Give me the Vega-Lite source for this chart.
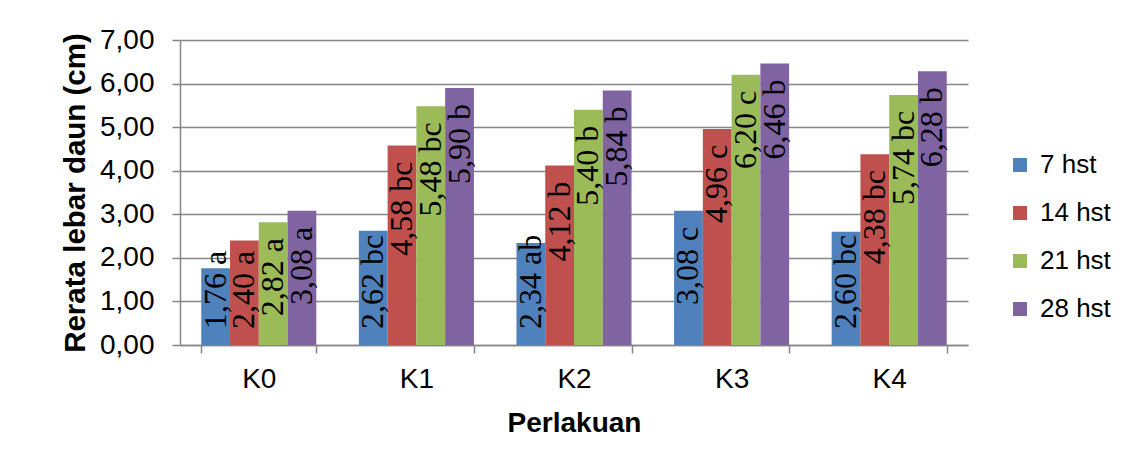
{
  "$schema": "https://vega.github.io/schema/vega-lite/v6.json",
  "width": 788,
  "height": 305,
  "autosize": {"type": "none"},
  "padding": {"left": 180, "top": 40, "right": 159, "bottom": 108},
  "background": "white",
  "config": {
    "view": {"stroke": null},
    "font": "Liberation Sans"
  },
  "data": {
    "values": [
      {"perlakuan": "K0", "waktu": "7 hst", "nilai": 1.76, "label": "1,76 a"},
      {"perlakuan": "K0", "waktu": "14 hst", "nilai": 2.40, "label": "2,40 a"},
      {"perlakuan": "K0", "waktu": "21 hst", "nilai": 2.82, "label": "2,82 a"},
      {"perlakuan": "K0", "waktu": "28 hst", "nilai": 3.08, "label": "3,08 a"},
      {"perlakuan": "K1", "waktu": "7 hst", "nilai": 2.62, "label": "2,62 bc"},
      {"perlakuan": "K1", "waktu": "14 hst", "nilai": 4.58, "label": "4,58 bc"},
      {"perlakuan": "K1", "waktu": "21 hst", "nilai": 5.48, "label": "5,48 bc"},
      {"perlakuan": "K1", "waktu": "28 hst", "nilai": 5.90, "label": "5,90 b"},
      {"perlakuan": "K2", "waktu": "7 hst", "nilai": 2.34, "label": "2,34 ab"},
      {"perlakuan": "K2", "waktu": "14 hst", "nilai": 4.12, "label": "4,12 b"},
      {"perlakuan": "K2", "waktu": "21 hst", "nilai": 5.40, "label": "5,40 b"},
      {"perlakuan": "K2", "waktu": "28 hst", "nilai": 5.84, "label": "5,84 b"},
      {"perlakuan": "K3", "waktu": "7 hst", "nilai": 3.08, "label": "3,08 c"},
      {"perlakuan": "K3", "waktu": "14 hst", "nilai": 4.96, "label": "4,96 c"},
      {"perlakuan": "K3", "waktu": "21 hst", "nilai": 6.20, "label": "6,20 c"},
      {"perlakuan": "K3", "waktu": "28 hst", "nilai": 6.46, "label": "6,46 b"},
      {"perlakuan": "K4", "waktu": "7 hst", "nilai": 2.60, "label": "2,60 bc"},
      {"perlakuan": "K4", "waktu": "14 hst", "nilai": 4.38, "label": "4,38 bc"},
      {"perlakuan": "K4", "waktu": "21 hst", "nilai": 5.74, "label": "5,74 bc"},
      {"perlakuan": "K4", "waktu": "28 hst", "nilai": 6.28, "label": "6,28 b"}
    ]
  },
  "encoding": {
    "x": {
      "field": "perlakuan",
      "type": "nominal",
      "scale": {"paddingInner": 0.27, "paddingOuter": 0.135},
      "axis": {
        "title": "Perlakuan",
        "labelAngle": 0,
        "labelFontSize": 28,
        "labelColor": "black",
        "labelPadding": 12,
        "titleFontSize": 28,
        "titleFontWeight": "bold",
        "titleColor": "black",
        "titlePadding": 16,
        "tickBand": "extent",
        "tickSize": 8,
        "tickColor": "#868686",
        "tickWidth": 1.5,
        "domainColor": "#868686",
        "domainWidth": 1.5
      }
    },
    "xOffset": {
      "field": "waktu",
      "type": "nominal",
      "sort": ["7 hst", "14 hst", "21 hst", "28 hst"],
      "scale": {"paddingInner": 0, "paddingOuter": 0}
    }
  },
  "layer": [
    {
      "mark": {"type": "bar"},
      "encoding": {
        "y": {
          "field": "nilai",
          "type": "quantitative",
          "scale": {"domain": [0, 7], "nice": false},
          "axis": {
            "title": "Rerata lebar daun (cm)",
            "values": [0, 1, 2, 3, 4, 5, 6, 7],
            "labelExpr": "replace(format(datum.value, '.2f'), '.', ',')",
            "labelFontSize": 28,
            "labelColor": "black",
            "labelPadding": 18,
            "tickSize": 8,
            "tickColor": "#868686",
            "tickWidth": 1.5,
            "domainColor": "#868686",
            "domainWidth": 1.5,
            "gridColor": "#868686",
            "gridWidth": 1.5,
            "titleFontSize": 29.5,
            "titleFontWeight": "bold",
            "titleColor": "black",
            "titlePadding": 9
          }
        },
        "color": {
          "field": "waktu",
          "type": "nominal",
          "scale": {
            "domain": ["7 hst", "14 hst", "21 hst", "28 hst"],
            "range": ["#4F81BD", "#C0504D", "#9BBB59", "#8064A2"]
          },
          "legend": {
            "title": null,
            "orient": "none",
            "legendX": 827,
            "legendY": 112,
            "padding": 0,
            "symbolType": "square",
            "symbolSize": 196,
            "symbolStrokeWidth": 0,
            "labelFontSize": 26,
            "labelColor": "black",
            "labelOffset": 7,
            "rowPadding": 22
          }
        }
      }
    },
    {
      "transform": [{"filter": "datum.nilai >= 2.7"}],
      "mark": {
        "type": "text",
        "angle": 270,
        "align": "right",
        "baseline": "middle",
        "dx": -16,
        "font": "Liberation Serif",
        "fontSize": 32,
        "color": "black"
      },
      "encoding": {
        "y": {"field": "nilai", "type": "quantitative"},
        "text": {"field": "label"}
      }
    },
    {
      "transform": [{"filter": "datum.nilai < 2.7"}],
      "mark": {
        "type": "text",
        "angle": 270,
        "align": "left",
        "baseline": "middle",
        "dx": 16,
        "font": "Liberation Serif",
        "fontSize": 32,
        "color": "black"
      },
      "encoding": {
        "y": {"datum": 0, "type": "quantitative"},
        "text": {"field": "label"}
      }
    }
  ]
}
